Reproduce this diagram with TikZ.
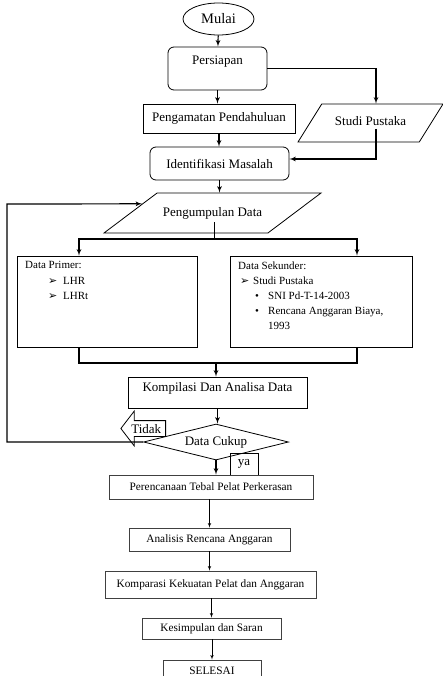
\documentclass[tikz,border=0pt]{standalone}
\usepackage{fontspec}
\setmainfont{Liberation Serif}
\newfontfamily\simbol{DejaVu Sans}
\usetikzlibrary{arrows,shapes,calc}
\newcommand{\hurufbesar}{\fontsize{13}{15}\selectfont}
\newcommand{\hurufkecil}{\fontsize{11}{15}\selectfont}
\newcommand{\hurufbawah}{\fontsize{11.3}{14}\selectfont}
\newcommand{\panah}{\makebox[0pt][l]{\simbol\fontsize{11}{11}\selectfont ➢}}
\tikzstyle{mulaiakhir}=[ellipse,draw=black,line width=0.8pt,minimum width=71pt,minimum height=32pt,inner sep=0pt]
\tikzstyle{tahap}=[rectangle,rounded corners=6pt,draw=black,line width=0.8pt,inner sep=0pt]
\tikzstyle{proses}=[rectangle,draw=black,line width=0.8pt,inner sep=0pt]
\tikzstyle{prosesb}=[rectangle,draw=black!75,line width=0.7pt,inner sep=0pt,font=\hurufbawah]
\tikzstyle{masukan}=[trapezium,trapezium stretches body,draw=black,line width=0.8pt,inner xsep=0pt,text height=9pt,text depth=3pt]
\tikzstyle{keputusan}=[diamond,shape aspect=4,draw=black,line width=0.8pt,inner sep=0pt,minimum width=145pt,minimum height=36pt]
\tikzstyle{alur}=[->,line width=1.2pt]
\tikzstyle{alurb}=[->,line width=0.6pt]

\begin{document}
\begin{tikzpicture}[x=1pt,y=-1pt,>=latex',font=\hurufbesar]
  \useasboundingbox (0,0) rectangle (443,676);
  \clip (0,0) rectangle (443,676);
  % Persiapan
  \node [mulaiakhir,font=\fontsize{14.5}{16}\selectfont] (mulai) at (218.5,19) {Mulai};
  \node [tahap,minimum width=99pt,minimum height=43pt,text height=9pt,text depth=17pt] (persiapan) at (217.5,68.5) {Persiapan};
  \node [proses,minimum width=152pt,minimum height=29pt] (pengamatan) at (219,118.5) {Pengamatan Pendahuluan};
  \node [masukan,trapezium left angle=58,trapezium right angle=122,inner ysep=13pt,minimum width=145pt] (studi) at (370.5,123) {Studi Pustaka};
  \node [tahap,minimum width=139pt,minimum height=33pt] (identifikasi) at (219.5,163.5) {Identifikasi Masalah};
  \node [masukan,trapezium left angle=37,trapezium right angle=143,inner ysep=14pt,minimum width=217pt] (pengumpulan) at (212.5,213) {Pengumpulan Data};

  \path (mulai) edge [alur] (persiapan)
        (persiapan.south) edge [alur] (persiapan.south |- pengamatan.north)
        (pengamatan.south) edge [alur] (pengamatan.south |- identifikasi.north)
        (identifikasi.south) edge [alur] (identifikasi.south |- pengumpulan.north);
  \draw [alur] (persiapan.east) -| ([xshift=5.5pt]studi.north);
  \draw [alur] ([xshift=5.5pt,yshift=-6pt]studi.center) |- ([yshift=4.5pt]identifikasi.east);

  % Data
  \node [proses,minimum width=180pt,minimum height=91pt] (primer) at (107,301.5) {};
  \node [proses,minimum width=182pt,minimum height=91pt] (sekunder) at (321,301.5) {};
  \node [anchor=north west,inner sep=0pt,align=left,font=\fontsize{11}{15.5}\selectfont] (isiprimer) at (25,261.5)
    {Data Primer:\\ \hspace*{23pt}\panah\hspace*{15pt}LHR\\ \hspace*{23pt}\panah\hspace*{15pt}LHRt};
  \node [anchor=north west,inner sep=0pt,align=left,font=\hurufkecil] (isisekunder) at (238,261.5)
    {Data Sekunder:\\ \hspace*{2pt}\panah\hspace*{13pt}Studi Pustaka\\
     \hspace*{17pt}\makebox[13pt][l]{•}SNI Pd-T-14-2003\\
     \hspace*{17pt}\makebox[13pt][l]{•}Rencana Anggaran Biaya,\\
     \hspace*{30pt}1993};
  \coordinate (bagi) at (214.5,239);
  \coordinate (gabung) at (216,363);
  \draw [line width=1.2pt] ([xshift=2pt,yshift=-9pt]pengumpulan.center) -- (bagi);
  \draw [alur] (bagi) -| ([xshift=-28pt]primer.north);
  \draw [alur] (bagi) -| ([xshift=36pt]sekunder.north);
  \draw [line width=1.2pt] ([xshift=-28pt]primer.south) |- (gabung);
  \draw [line width=1.2pt] ([xshift=36pt]sekunder.south) |- (gabung);

  % Analisa
  \node [proses,minimum width=179pt,minimum height=31pt,text height=9pt,text depth=11pt] (kompilasi) at (217.5,392.5) {Kompilasi Dan Analisa Data};
  \node [keputusan] (cukup) at (216,442) {Data Cukup};
  \node [draw=black,line width=0.8pt,single arrow,shape border rotate=180,single arrow head extend=9.5pt,
         single arrow tip angle=105,inner xsep=4pt,inner ysep=3pt,text height=9pt,text depth=0pt,anchor=tail] (tidak) at (166,428.5) {Tidak};
  \node [proses,minimum width=28pt,minimum height=22pt] (ya) at (244,464) {ya};
  \coordinate (balik) at (7,204);
  \draw [alur] (gabung) -- (gabung |- kompilasi.north);
  \draw [alur] (kompilasi.south) -- (kompilasi.south |- cukup.north);
  \draw [alur] (cukup.west) -| (balik) -- ($(pengumpulan.bottom left corner)!0.725!(pengumpulan.top left corner)$);

  % Perencanaan
  \node [prosesb,minimum width=204pt,minimum height=24pt] (perencanaan) at (211,487) {Perencanaan Tebal Pelat Perkerasan};
  \node [prosesb,minimum width=161pt,minimum height=23pt] (analisis) at (209.5,539.5) {Analisis Rencana Anggaran};
  \node [prosesb,minimum width=211pt,minimum height=27pt] (komparasi) at (210.5,584.5) {Komparasi Kekuatan Pelat dan Anggaran};
  \node [prosesb,minimum width=139pt,minimum height=21pt] (kesimpulan) at (211.5,628.5) {Kesimpulan dan Saran};
  \node [prosesb,minimum width=98pt,minimum height=22pt] (selesai) at (212,671) {SELESAI};

  \path (cukup.south) edge [alur] (cukup.south |- perencanaan.north)
        (analisis.north |- perencanaan.south) edge [alurb] (analisis.north)
        (analisis.south) edge [alurb] (analisis.south |- komparasi.north)
        (kesimpulan.north |- komparasi.south) edge [alurb] (kesimpulan.north)
        (selesai.north |- kesimpulan.south) edge [alurb] (selesai.north);
\end{tikzpicture}
\end{document}
